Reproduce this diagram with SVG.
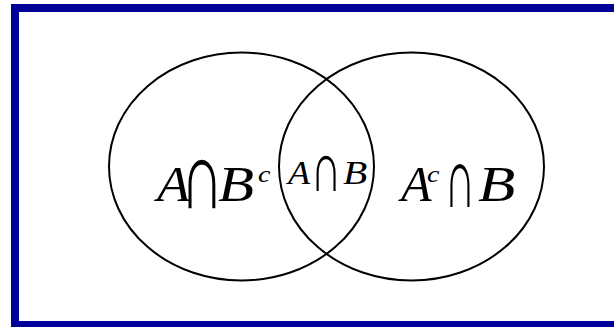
<svg xmlns="http://www.w3.org/2000/svg" width="614" height="327" viewBox="0 0 614 327">
<style>
.frame{fill:#ffffff;stroke:#000099;stroke-width:8}
.set{fill:none;stroke:#000000;stroke-width:2}
.it{font-family:"Liberation Serif","Times New Roman",serif;font-style:italic;fill:#000000}
.cap{font-family:"Liberation Serif","Times New Roman",serif;font-size:60px;fill:#000000;text-anchor:middle}
</style>
<rect x="0" y="0" width="614" height="327" fill="#ffffff"/>
<rect class="frame" x="15" y="8" width="612" height="317"/>
<g id="connectors"></g>
<g id="setA"><ellipse class="set" cx="241.5" cy="166.5" rx="132.5" ry="114"/></g>
<g id="setB"><ellipse class="set" cx="411.5" cy="166.5" rx="132.5" ry="114"/></g>
<g id="labelAnotB">
<text class="it" font-size="50" transform="translate(157,201) scale(1.08,1)">A</text>
<text class="cap" transform="translate(202,208) scale(1.0,1.6)">∩</text>
<text class="it" font-size="50" transform="translate(218,201) scale(1.18,1)">B</text>
<text class="it" font-size="24" transform="translate(258,182) scale(1.17,1)">c</text>
</g>
<g id="labelAandB">
<text class="it" font-size="33" transform="translate(288,184) scale(1.1,1)">A</text>
<text class="cap" transform="translate(326,191) scale(0.71,1.17)">∩</text>
<text class="it" font-size="33" transform="translate(343,184) scale(1.2,1)">B</text>
</g>
<g id="labelBnotA">
<text class="it" font-size="50" transform="translate(401,201)">A</text>
<text class="it" font-size="24" transform="translate(427,182) scale(1.17,1)">c</text>
<text class="cap" transform="translate(460,207) scale(0.71,1.42)">∩</text>
<text class="it" font-size="50" transform="translate(478,201) scale(1.22,1)">B</text>
</g>
</svg>
